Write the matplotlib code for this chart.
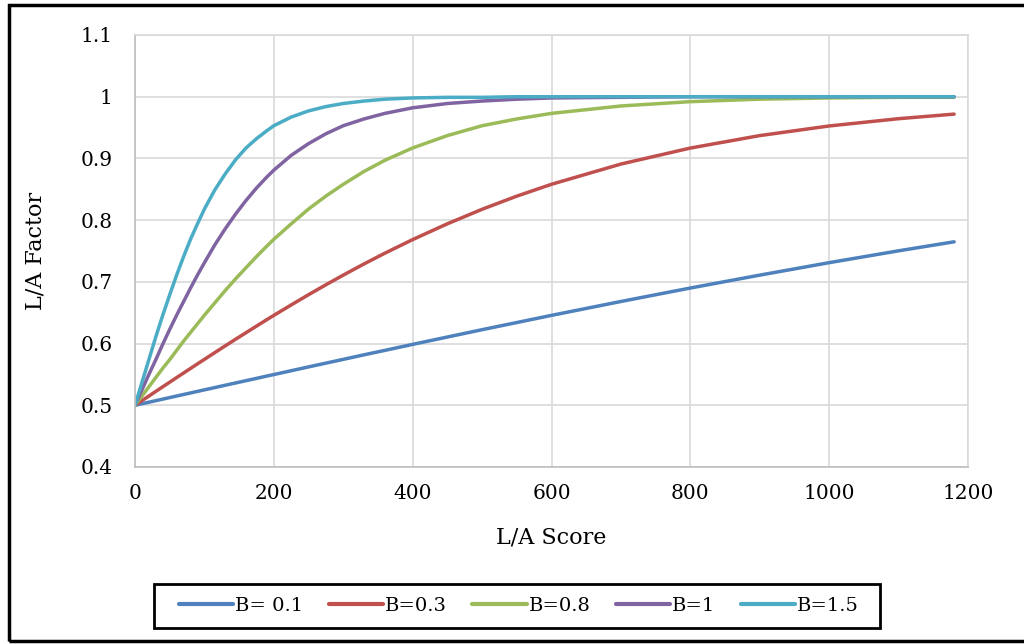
import matplotlib.pyplot as plt
from matplotlib.patches import Rectangle

# values
score = [0, 10, 20, 30, 40, 50, 60, 70, 80, 90, 100, 115, 130, 145, 160, 175, 190, 200,
         225, 250, 275, 300, 330, 360, 400, 450, 500, 550, 600, 700, 800, 900, 1000, 1100, 1180]
b01 = [0.5, 0.5025, 0.505, 0.5075, 0.51, 0.5125, 0.515, 0.5175, 0.52, 0.5225, 0.525, 0.5287,
       0.5325, 0.5362, 0.5399, 0.5436, 0.5474, 0.5498, 0.556, 0.5622, 0.5683, 0.5744, 0.5818,
       0.589, 0.5987, 0.6106, 0.6225, 0.6341, 0.6457, 0.6682, 0.69, 0.7109, 0.7311, 0.7503, 0.7649]
b03 = [0.5, 0.5075, 0.515, 0.5225, 0.53, 0.5374, 0.5449, 0.5523, 0.5597, 0.5671, 0.5744, 0.5854,
       0.5963, 0.6071, 0.6177, 0.6283, 0.6388, 0.6457, 0.6626, 0.6792, 0.6953, 0.7109, 0.7291,
       0.7465, 0.7685, 0.7941, 0.8176, 0.8389, 0.8581, 0.8909, 0.9168, 0.937, 0.9526, 0.9644, 0.9718]
b08 = [0.5, 0.515, 0.530, 0.545, 0.560, 0.574, 0.589, 0.604, 0.618, 0.632, 0.646, 0.666,
       0.686, 0.705, 0.723, 0.741, 0.758, 0.769, 0.794, 0.818, 0.839, 0.858, 0.879, 0.897,
       0.917, 0.937, 0.953, 0.964, 0.973, 0.985, 0.992, 0.996, 0.998, 0.999, 0.999]
b1 = [0.5, 0.525, 0.550, 0.574, 0.599, 0.623, 0.646, 0.668, 0.690, 0.711, 0.731, 0.760,
      0.786, 0.810, 0.832, 0.852, 0.870, 0.881, 0.905, 0.924, 0.940, 0.953, 0.964, 0.973,
      0.982, 0.989, 0.993, 0.996, 0.998, 0.999, 1.0, 1.0, 1.0, 1.0, 1.0]
b15 = [0.5, 0.537, 0.574, 0.611, 0.646, 0.679, 0.711, 0.741, 0.769, 0.794, 0.818, 0.849,
       0.875, 0.898, 0.917, 0.932, 0.945, 0.953, 0.967, 0.977, 0.984, 0.989, 0.993, 0.996,
       0.998, 0.999, 0.999, 1.0, 1.0, 1.0, 1.0, 1.0, 1.0, 1.0, 1.0]
series = [b01, b03, b08, b1, b15]
labels = ['B= 0.1', 'B=0.3', 'B=0.8', 'B=1', 'B=1.5']
colors = ['#4F81BD', '#C0504D', '#9BBB59', '#8064A2', '#4BACC6']

xticks = [0, 200, 400, 600, 800, 1000, 1200]
yticks = [0.4, 0.5, 0.6, 0.7, 0.8, 0.9, 1.0, 1.1]
ytick_labels = ['0.4', '0.5', '0.6', '0.7', '0.8', '0.9', '1', '1.1']

plt.rcParams['font.family'] = ['DejaVu Serif']

fig = plt.figure(figsize=(10.24, 6.44), dpi=100)
ax = fig.add_axes([135/1024, 1-467/644, 833/1024, 432/644])

for ys, lab, c in zip(series, labels, colors):
    ax.plot(score, ys, color=c, lw=2.5, label=lab, solid_capstyle='round')

ax.set_xlim(0, 1200)
ax.set_ylim(0.4, 1.1)
ax.set_xticks(xticks)
ax.set_yticks(yticks)
ax.set_yticklabels(ytick_labels)
ax.tick_params(length=0, labelsize=14.5)
ax.tick_params(axis='x', pad=12)
ax.tick_params(axis='y', pad=16)
ax.grid(color='#d9d9d9', lw=1.2)
ax.set_axisbelow(True)
for s in ax.spines.values():
    s.set_color('#d9d9d9')
    s.set_linewidth(1.2)
ax.spines['left'].set_color('#bfbfbf')
ax.spines['bottom'].set_color('#bfbfbf')

ax.set_xlabel('L/A Score', fontsize=16)
ax.set_ylabel('L/A Factor', fontsize=16)
ax.xaxis.label.set_va('center')
ax.yaxis.label.set_va('center')
ax.xaxis.set_label_coords(0.5, -(537-467)/432)
ax.yaxis.set_label_coords(-(135-35)/833, 0.5)

leg = fig.legend(loc='center', bbox_to_anchor=(519/1024, 1-606/644), ncol=5,
                 fontsize=14, frameon=False, handlelength=2.8,
                 handletextpad=0.1, columnspacing=1.3)
for h in leg.get_lines():
    h.set_linewidth(3)

# legend box and outer chart border
fig.patches.append(Rectangle((154/1024, 1-628/644), 726/1024, 44/644, transform=fig.transFigure,
                             fill=False, edgecolor='black', lw=2))
fig.patches.append(Rectangle((9/1024, 3/644), 1.0, 1-8/644, transform=fig.transFigure,
                             fill=False, edgecolor='black', lw=2.5))

fig.savefig('out.png', dpi=100)
